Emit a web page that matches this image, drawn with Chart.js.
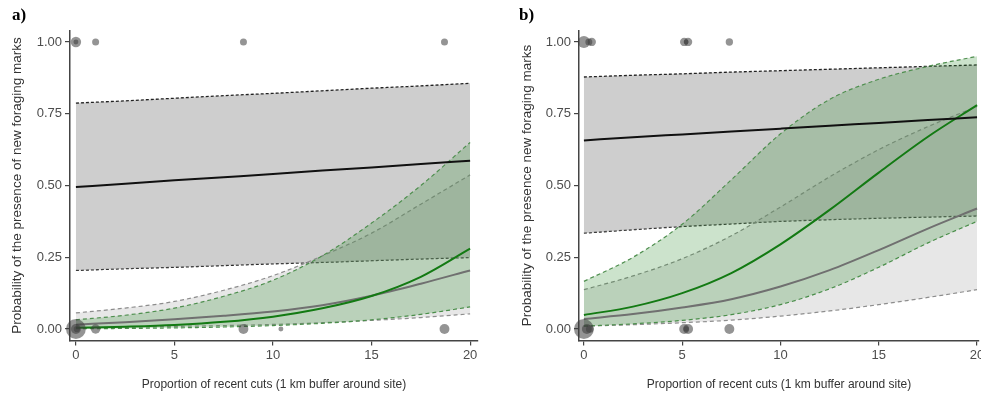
<!DOCTYPE html>
<html>
<head>
<meta charset="utf-8">
<script src="https://cdn.jsdelivr.net/npm/chart.js@4.4.1/dist/chart.umd.min.js"></script>
<style>
  html, body { margin: 0; padding: 0; background: #fff; overflow: hidden; }
  body { width: 981px; height: 394px; position: relative; }
  .panel { position: absolute; top: 0; }
  .tag { position: absolute; top: 5px; font: bold 17px 'Liberation Serif', 'DejaVu Serif', serif; color: #000; }
</style>
</head>
<body>
<canvas id="chart-a" class="panel" width="490" height="394" style="left:0"></canvas>
<canvas id="chart-b" class="panel" width="480" height="394" style="left:510px"></canvas>
<div class="tag" style="left:12px">a)</div>
<div class="tag" style="left:519px">b)</div>
<script>
const cutX = [0, 2.5, 5, 7.5, 10, 12.5, 15, 17.5, 20];
const xTicks = [0, 5, 10, 15, 20];
const yTicks = [0, 0.25, 0.5, 0.75, 1];

const xTitle = 'Proportion of recent cuts (1 km buffer around site)';
const yTitleA = 'Probability of the presence of new foraging marks';
const yTitleB = 'Probability of the presence new foraging marks';

// Panel a) fitted curves
const aBlack   = [0.495, 0.506, 0.518, 0.529, 0.540, 0.552, 0.563, 0.575, 0.586];
const aBlackHi = [0.787, 0.795, 0.804, 0.813, 0.821, 0.830, 0.839, 0.847, 0.856];
const aBlackLo = [0.204, 0.210, 0.215, 0.221, 0.227, 0.232, 0.238, 0.244, 0.249];
const aGrey    = [0.015, 0.024, 0.034, 0.046, 0.061, 0.083, 0.116, 0.158, 0.204];
const aGreyHi  = [0.056, 0.073, 0.096, 0.135, 0.186, 0.255, 0.334, 0.435, 0.537];
const aGreyLo  = [0.004, 0.006, 0.009, 0.012, 0.016, 0.022, 0.030, 0.040, 0.053];
const aGreen   = [0.004, 0.008, 0.014, 0.025, 0.043, 0.072, 0.115, 0.182, 0.280];
const aGreenHi = [0.032, 0.048, 0.073, 0.114, 0.170, 0.255, 0.369, 0.500, 0.650];
const aGreenLo = [0.001, 0.002, 0.004, 0.007, 0.012, 0.020, 0.032, 0.051, 0.077];

// Panel a) observations (weight sets the marker size)
const aPtX = [0, 0, 1, 8.5, 18.7, 0, 0, 0.05, 1, 8.5, 10.4, 18.7];
const aPtY = [1, 1, 1, 1, 1, 0, 0, 0, 0, 0, 0, 0];
const aPtW = [2.2, 0.5, 1, 1, 1, 8, 2, 0.8, 1.8, 2, 0.5, 2];

// Panel b) fitted curves
const bBlack   = [0.657, 0.668, 0.678, 0.688, 0.698, 0.708, 0.718, 0.728, 0.738];
const bBlackHi = [0.878, 0.884, 0.889, 0.895, 0.900, 0.905, 0.910, 0.915, 0.920];
const bBlackLo = [0.334, 0.346, 0.357, 0.366, 0.375, 0.381, 0.386, 0.390, 0.394];
const bGrey    = [0.035, 0.052, 0.075, 0.104, 0.148, 0.205, 0.275, 0.350, 0.420];
const bGreyHi  = [0.137, 0.185, 0.245, 0.325, 0.425, 0.530, 0.625, 0.705, 0.775];
const bGreyLo  = [0.010, 0.015, 0.022, 0.031, 0.045, 0.063, 0.085, 0.110, 0.137];
const bGreen   = [0.049, 0.078, 0.125, 0.195, 0.295, 0.415, 0.545, 0.670, 0.780];
const bGreenHi = [0.166, 0.250, 0.365, 0.520, 0.680, 0.800, 0.870, 0.915, 0.950];
const bGreenLo = [0.010, 0.018, 0.030, 0.050, 0.085, 0.140, 0.215, 0.300, 0.375];

// Panel b) observations
const bPtX = [0, 0.25, 0.4, 5.1, 5.3, 5.2, 7.4, 0, 0.15, 0.3, 5.1, 5.3, 5.2, 7.4];
const bPtY = [1, 1, 1, 1, 1, 1, 1, 0, 0, 0, 0, 0, 0, 0];
const bPtW = [3, 1, 1.4, 1.4, 1.4, 0.5, 1.1, 8, 2, 1.2, 2, 2, 0.6, 2];

const fontFamily = "'Liberation Sans Narrow', 'Liberation Sans', Arial, sans-serif";

function pts(ys) {
    return cutX.map((x, i) => ({ x: x, y: ys[i] }));
}

function curve(ys, color, width, dash, fill, fillColor) {
    return {
        type: 'line',
        data: pts(ys),
        borderColor: color,
        borderWidth: width,
        borderDash: dash,
        backgroundColor: fillColor || 'transparent',
        fill: fill,
        pointRadius: 0,
        cubicInterpolationMode: 'monotone'
    };
}

function buildPanel(id, d) {
    const ctx = document.getElementById(id).getContext('2d');
    const bubbles = d.px.map((x, i) => ({ x: x, y: d.py[i], r: 3.5 * Math.sqrt(d.pw[i]) }));

    // index 0 is drawn on top, the last one at the bottom
    const datasets = [
        {
            type: 'bubble',
            data: bubbles,
            backgroundColor: 'rgba(60, 60, 60, 0.55)',
            borderWidth: 0,
            clip: false
        },
        curve(d.black, '#111111', 2, [], false),
        curve(d.green, '#137a13', 2, [], false),
        curve(d.grey, '#707070', 2, [], false),
        curve(d.greenHi, '#4f8f4f', 1.2, [4, 3], '+1', 'rgba(40, 140, 40, 0.24)'),
        curve(d.greenLo, '#4f8f4f', 1.2, [4, 3], false),
        curve(d.greyHi, '#8c8c8c', 1.2, [4, 3], '+1', 'rgba(153, 153, 153, 0.24)'),
        curve(d.greyLo, '#8c8c8c', 1.2, [4, 3], false),
        curve(d.blackHi, '#222222', 1.3, [3, 2], '+1', 'rgba(153, 153, 153, 0.48)'),
        curve(d.blackLo, '#222222', 1.3, [3, 2], false)
    ];

    return new Chart(ctx, {
        type: 'line',
        data: { datasets: datasets },
        options: {
            responsive: false,
            animation: false,
            events: [],
            layout: {
                padding: { top: 30.5, right: d.padRight, left: 0, bottom: 0 }
            },
            plugins: {
                legend: { display: false },
                tooltip: { enabled: false }
            },
            scales: {
                x: {
                    type: 'linear',
                    min: d.xMin,
                    max: d.xMax,
                    afterBuildTicks: s => { s.ticks = xTicks.map(v => ({ value: v })); },
                    afterFit: s => { s.height = 53.5; },
                    grid: { drawOnChartArea: false, drawTicks: true, tickLength: 5, color: '#444', lineWidth: 1.2 },
                    border: { display: true, color: '#444', width: 1.5 },
                    ticks: {
                        color: '#4d4d4d',
                        font: { family: fontFamily, size: 13 },
                        padding: 2,
                        maxRotation: 0,
                        autoSkip: false,
                        callback: v => String(v)
                    },
                    title: {
                        display: true,
                        text: xTitle,
                        color: '#333',
                        font: { family: fontFamily, size: 12 },
                        padding: { top: 0, bottom: 1.8 }
                    }
                },
                y: {
                    min: -0.04,
                    max: 1.04,
                    afterBuildTicks: s => { s.ticks = yTicks.map(v => ({ value: v })); },
                    afterFit: s => { s.width = d.yWidth; },
                    grid: { drawOnChartArea: false, drawTicks: true, tickLength: 5, color: '#444', lineWidth: 1.2 },
                    border: { display: true, color: '#444', width: 1.5 },
                    ticks: {
                        color: '#4d4d4d',
                        font: { family: fontFamily, size: 13 },
                        padding: 3,
                        callback: v => Number(v).toFixed(2)
                    },
                    title: {
                        display: true,
                        text: d.yTitle,
                        color: '#333',
                        font: { family: fontFamily, size: 13.5 },
                        padding: { top: 8.9, bottom: 0 }
                    }
                }
            }
        }
    });
}

buildPanel('chart-a', {
    black: aBlack, blackHi: aBlackHi, blackLo: aBlackLo,
    grey: aGrey, greyHi: aGreyHi, greyLo: aGreyLo,
    green: aGreen, greenHi: aGreenHi, greenLo: aGreenLo,
    px: aPtX, py: aPtY, pw: aPtW,
    xMin: -0.3, xMax: 20.4, padRight: 12, yWidth: 70, yTitle: yTitleA
});

buildPanel('chart-b', {
    black: bBlack, blackHi: bBlackHi, blackLo: bBlackLo,
    grey: bGrey, greyHi: bGreyHi, greyLo: bGreyLo,
    green: bGreen, greenHi: bGreenHi, greenLo: bGreenLo,
    px: bPtX, py: bPtY, pw: bPtW,
    xMin: -0.25, xMax: 20.1, padRight: 11, yWidth: 69, yTitle: yTitleB
});
</script>
</body>
</html>
